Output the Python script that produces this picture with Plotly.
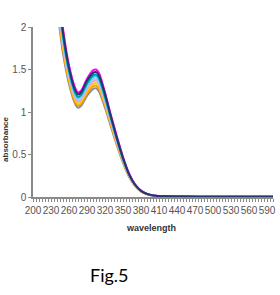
import plotly.graph_objects as go

wavelength = [230, 240, 250, 260, 270, 275, 280, 290, 300, 305, 310, 320, 330, 340,
              350, 360, 370, 380, 390, 400, 410, 420, 450, 500, 550, 600]

s1 = [3.43, 2.62, 1.98, 1.55, 1.29, 1.23, 1.25, 1.39, 1.49, 1.50, 1.46, 1.23, 0.96, 0.71,
      0.47, 0.28, 0.15, 0.075, 0.037, 0.019, 0.011, 0.008, 0.005, 0.004, 0.004, 0.004]
s2 = [3.36, 2.57, 1.94, 1.52, 1.26, 1.21, 1.23, 1.37, 1.46, 1.47, 1.43, 1.21, 0.945, 0.69,
      0.46, 0.27, 0.147, 0.073, 0.037, 0.019, 0.0105, 0.0074, 0.005, 0.004, 0.004, 0.004]
s3 = [3.29, 2.52, 1.90, 1.49, 1.235, 1.18, 1.20, 1.34, 1.43, 1.44, 1.40, 1.18, 0.926, 0.68,
      0.45, 0.267, 0.144, 0.072, 0.036, 0.0185, 0.0103, 0.0072, 0.005, 0.004, 0.004, 0.004]
s4 = [3.24, 2.48, 1.88, 1.47, 1.22, 1.165, 1.19, 1.32, 1.41, 1.42, 1.38, 1.165, 0.913, 0.67,
      0.446, 0.264, 0.142, 0.071, 0.0355, 0.018, 0.01, 0.007, 0.005, 0.004, 0.004, 0.004]
s5 = [3.18, 2.43, 1.84, 1.44, 1.19, 1.14, 1.16, 1.29, 1.38, 1.39, 1.35, 1.14, 0.894, 0.655,
      0.437, 0.258, 0.139, 0.07, 0.035, 0.018, 0.01, 0.007, 0.005, 0.004, 0.004, 0.004]
s6 = [3.13, 2.40, 1.81, 1.42, 1.175, 1.126, 1.145, 1.27, 1.36, 1.37, 1.33, 1.126, 0.881, 0.646,
      0.431, 0.255, 0.137, 0.069, 0.034, 0.0176, 0.0098, 0.0069, 0.005, 0.004, 0.004, 0.004]
s7 = [3.06, 2.34, 1.77, 1.39, 1.15, 1.10, 1.12, 1.244, 1.33, 1.34, 1.30, 1.10, 0.861, 0.632,
      0.421, 0.249, 0.134, 0.067, 0.0335, 0.0172, 0.0096, 0.0067, 0.005, 0.004, 0.004, 0.004]
s8 = [3.00, 2.29, 1.73, 1.36, 1.12, 1.076, 1.095, 1.217, 1.30, 1.31, 1.27, 1.076, 0.842, 0.618,
      0.412, 0.243, 0.131, 0.066, 0.033, 0.0168, 0.0094, 0.0066, 0.005, 0.004, 0.004, 0.004]
s9 = [2.92, 2.24, 1.69, 1.33, 1.10, 1.05, 1.07, 1.19, 1.27, 1.28, 1.24, 1.05, 0.823, 0.603,
      0.402, 0.238, 0.128, 0.064, 0.032, 0.0165, 0.0091, 0.0064, 0.005, 0.004, 0.004, 0.004]

series = [s9, s8, s7, s6, s5, s4, s3, s1, s2]
colors = ["#7f8fa0", "#ff9900", "#ffcc00", "#ff99cc", "#99ccff", "#33ccff", "#009999",
          "#ff00ff", "#1f3a6a"]

xticks = list(range(200, 600, 30))
yticks = [0, 0.5, 1, 1.5, 2]
ytext = ["0", "0.5", "1", "1.5", "2"]

fig = go.Figure()
for s, c in zip(series, colors):
    fig.add_trace(go.Scatter(x=wavelength, y=s, mode="lines",
                             line=dict(color=c, width=2, shape="spline", smoothing=0.8),
                             showlegend=False, hoverinfo="skip"))

narrow = "Liberation Sans Narrow, Arial Narrow, sans-serif"
tickfont = dict(family=narrow, size=10, color="#555555")

fig.update_layout(
    width=280, height=295,
    margin=dict(l=33, r=4, t=27, b=98),
    paper_bgcolor="white", plot_bgcolor="white",
    xaxis=dict(range=[200, 600], tickvals=xticks, ticktext=[str(v) for v in xticks],
               tickfont=tickfont, showgrid=False, zeroline=False,
               showline=True, linecolor="#8a8a8a", linewidth=1.5,
               ticks="outside", ticklen=3, tickcolor="#8a8a8a",
               minor=dict(ticks="outside", dtick=5, tick0=200, ticklen=3, tickcolor="#8a8a8a"),
               tickangle=0),
    yaxis=dict(range=[0, 2], tickvals=yticks, ticktext=ytext, tickfont=tickfont,
               showgrid=False, zeroline=False, showline=True, linecolor="#8a8a8a",
               linewidth=1.5, ticks="outside", ticklen=3, tickcolor="#8a8a8a"),
    annotations=[
        dict(text="<b>absorbance</b>", xref="paper", yref="paper", x=-0.117, y=0.341,
             xanchor="center", yanchor="middle", textangle=-90, showarrow=False,
             font=dict(family=narrow, size=8, color="#333333")),
        dict(text="<b>wavelength</b>", xref="paper", yref="paper", x=0.49, y=-0.18,
             xanchor="center", yanchor="middle", showarrow=False,
             font=dict(family=narrow, size=9, color="#333333")),
        dict(text="Fig.5", xref="paper", yref="paper", x=0.317, y=-0.459,
             xanchor="center", yanchor="middle", showarrow=False,
             font=dict(family="Lato, sans-serif", size=18, color="#000000")),
    ],
)

fig.write_html("out.html")
